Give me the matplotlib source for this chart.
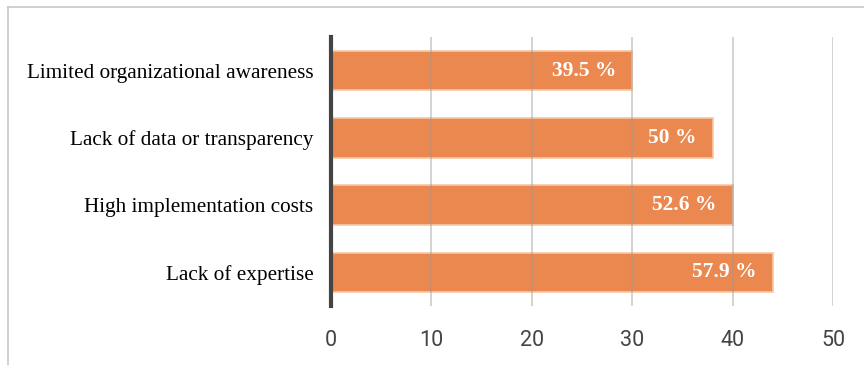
import matplotlib.pyplot as plt
from matplotlib.lines import Line2D

categories = [
    "Limited organizational awareness",
    "Lack of data or transparency",
    "High implementation costs",
    "Lack of expertise",
]
counts = [30, 38, 40, 44]
respondents = 76
x_ticks = [0, 10, 20, 30, 40, 50]

W, H, DPI = 864, 365, 100
fig = plt.figure(figsize=(W / DPI, H / DPI), dpi=DPI)
ax = fig.add_axes([331 / W, 1 - 306 / H, (833 - 331) / W, (306 - 37) / H])

ypos = list(range(len(categories)))
ax.barh(ypos, counts, height=0.59, color="#EB8850", edgecolor="#F6C7A8",
        linewidth=1.2, zorder=2)

for y, c in zip(ypos, counts):
    pct = c / respondents * 100
    txt = f"{pct:.1f} %".replace(".0 %", " %")
    ax.text(c - 1.6, y, txt, ha="right", va="center", color="white",
            fontsize=15.5, fontweight="bold", family="Liberation Serif", zorder=4)

ax.set_xlim(0, 50)
ax.set_ylim(len(categories) - 0.5, -0.5)
ax.set_xticks(x_ticks)
ax.set_yticks(ypos)
ax.set_yticklabels(categories, family="Liberation Serif", fontsize=15.3, color="black")
ax.tick_params(axis="y", length=0, pad=12.7)
ax.tick_params(axis="x", length=0, pad=17.5, labelsize=15.5, labelcolor="#444444")
for lbl in ax.get_xticklabels():
    lbl.set_family("Roboto")

ax.grid(axis="x", color="#9a9a9a", linewidth=1.1, alpha=0.55, zorder=3)
ax.set_axisbelow(False)
for s in ["top", "right", "bottom"]:
    ax.spines[s].set_visible(False)
ax.spines["left"].set_color("#444444")
ax.spines["left"].set_linewidth(3)
ax.spines["left"].set_zorder(5)

# light frame along the top and left edges
fig.add_artist(Line2D([8 / W, 1], [1 - 7 / H, 1 - 7 / H], color="#c8c8c8", lw=1.2))
fig.add_artist(Line2D([8 / W, 8 / W], [0, 1 - 7 / H], color="#c8c8c8", lw=1.2))

fig.savefig("out.png", dpi=DPI)
